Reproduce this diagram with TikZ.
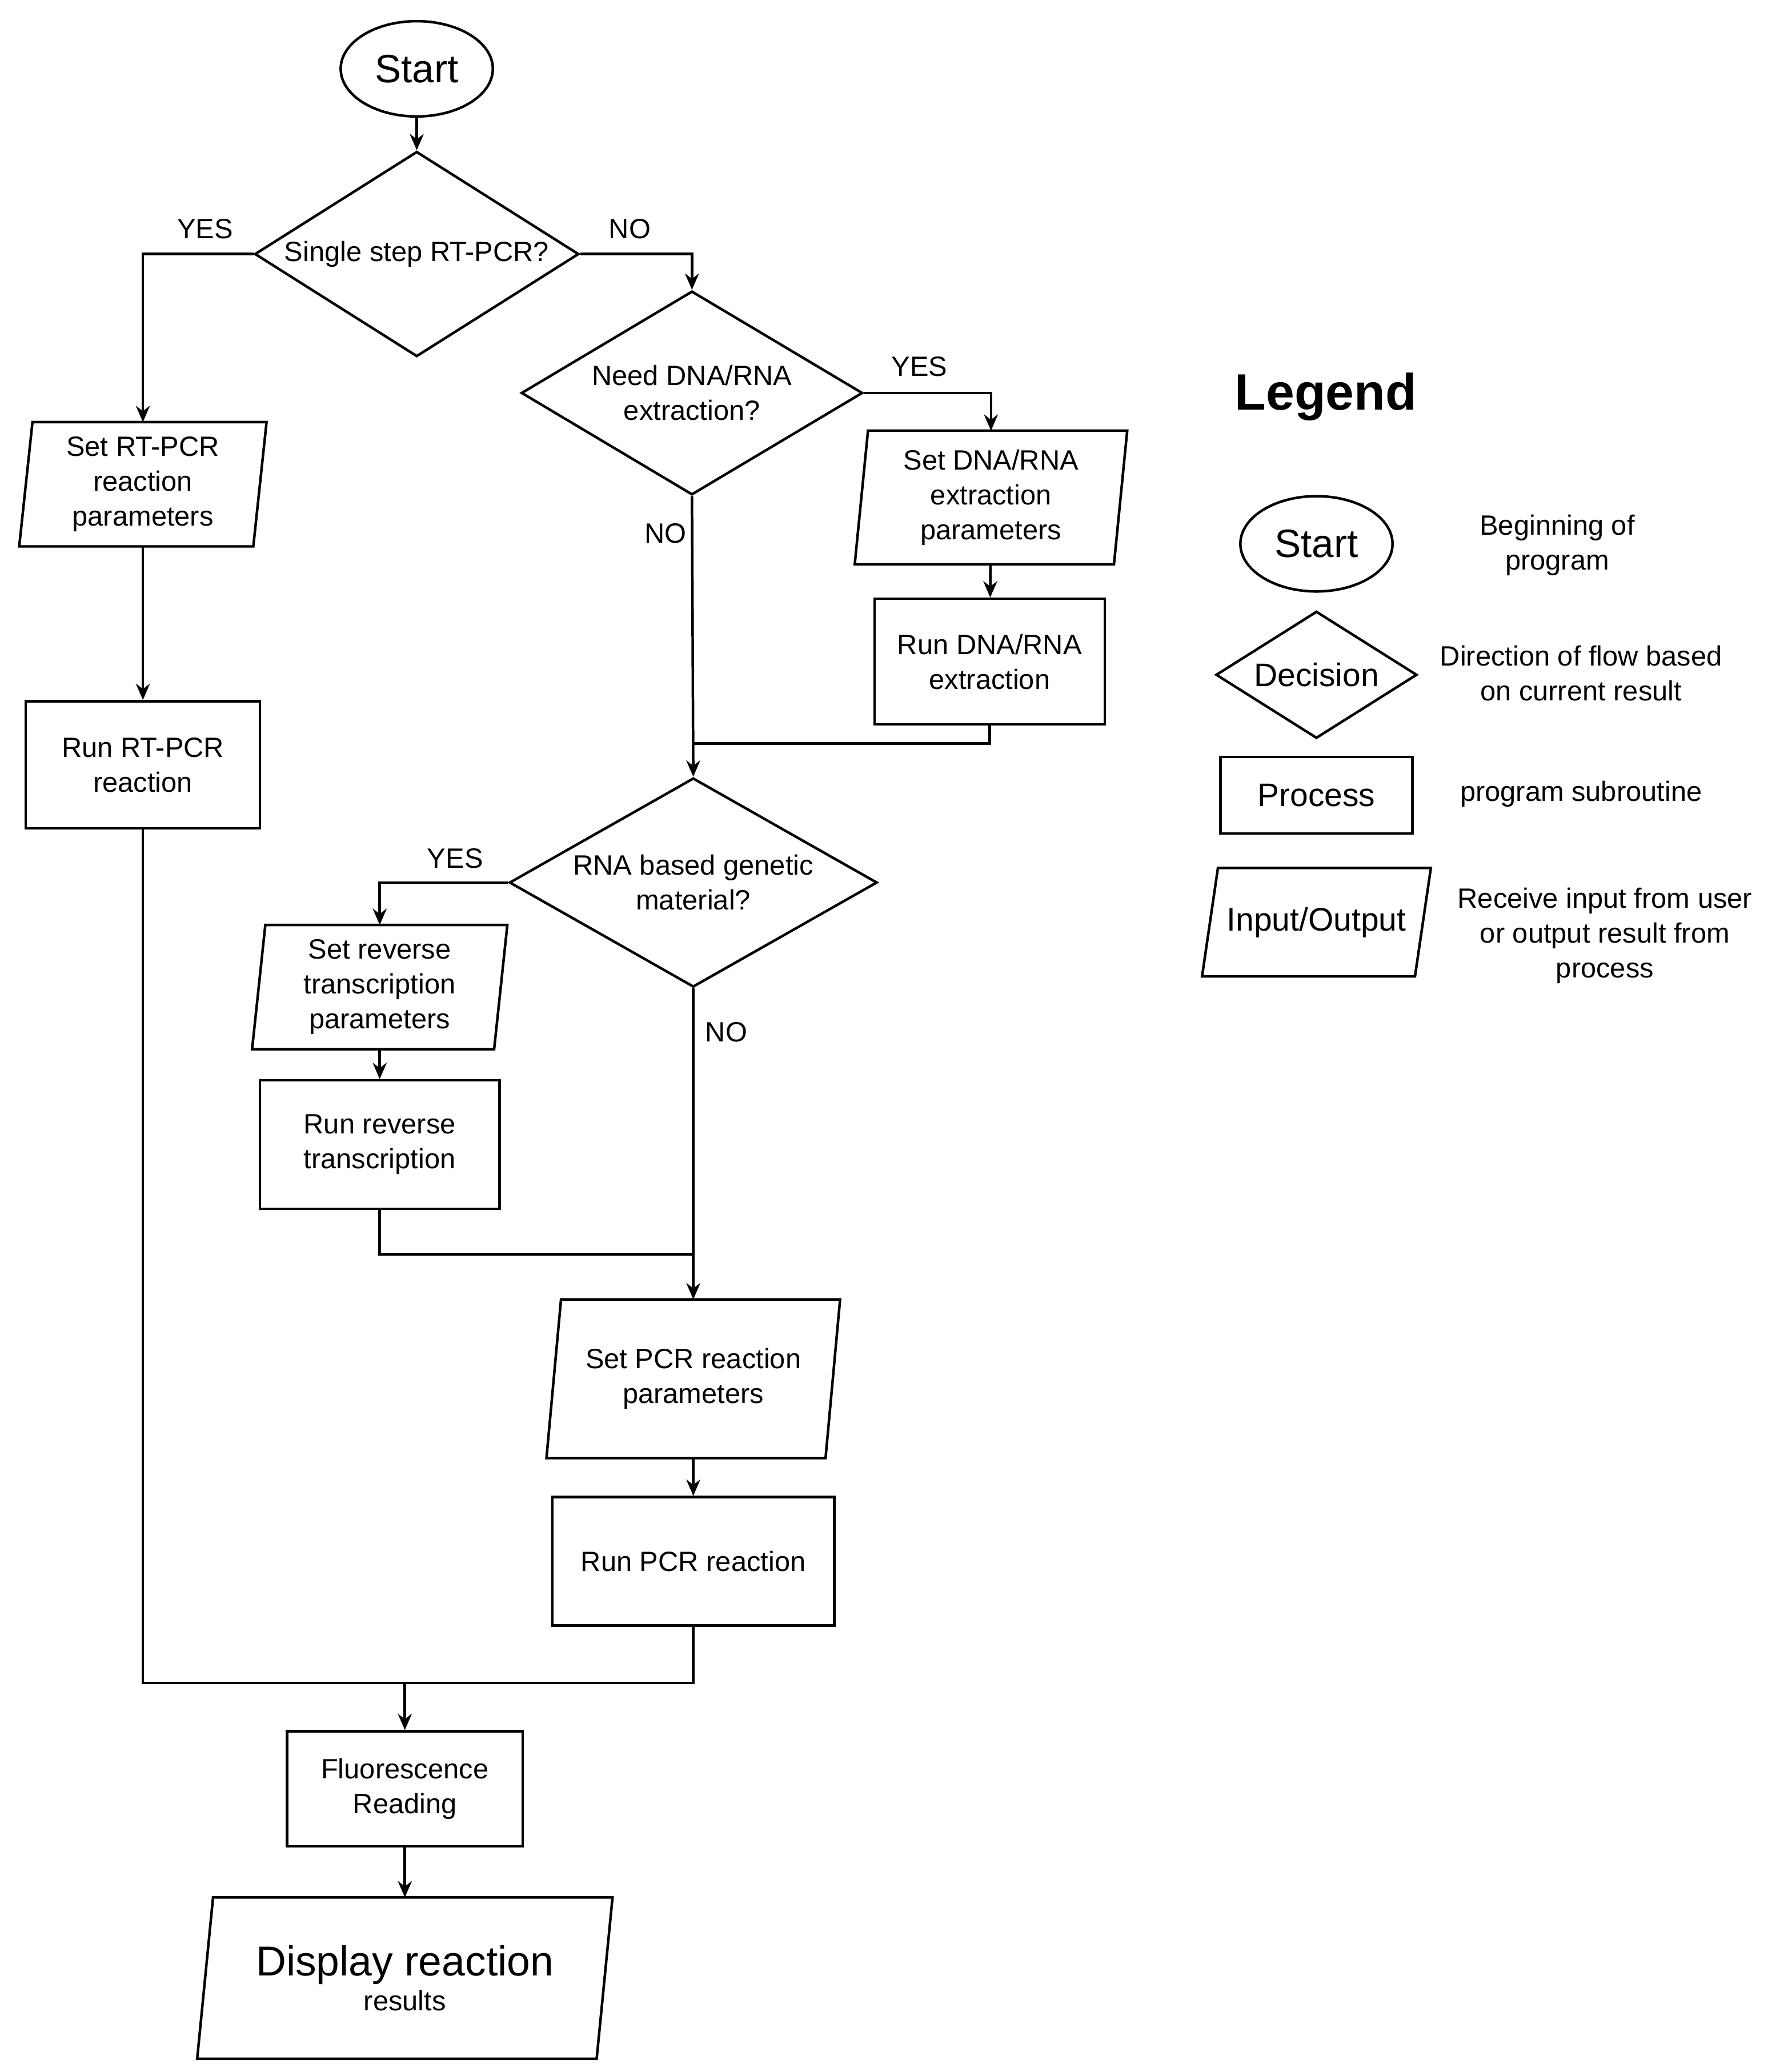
\documentclass[tikz,border=0pt]{standalone}
\usepackage{fontspec}
\setmainfont{Liberation Sans}
\usetikzlibrary{shapes.geometric,arrows.meta}
\begin{document}
\begin{tikzpicture}[x=0.02cm,y=-0.02cm,line width=1.1pt,
  txt/.style={font=\fontsize{12}{15}\selectfont,align=center},
  proc/.style={draw,txt,inner sep=0pt},
  dec/.style={draw,diamond,txt,aspect=1.6,inner sep=0pt},
  term/.style={draw,ellipse,font=\fontsize{17}{20}\selectfont,inner sep=0pt},
  lab/.style={txt},
  io/.style={txt,inner sep=0pt},
  arr/.style={-{Stealth[length=7pt,width=6pt]}}]
\useasboundingbox (0,0) rectangle (1351,1566);
\newcommand{\iobox}[7]{% name,cx,cy,w,h,slant,text
  \node[io,minimum width=#4*0.02cm,minimum height=#5*0.02cm] (#1) at (#2,#3) {#7};
  \draw ([xshift=#6*0.02cm]#1.north west) -- (#1.north east) -- ([xshift=-#6*0.02cm]#1.south east) -- (#1.south west) -- cycle;}
% main flow
\node[term,minimum width=115*0.02cm,minimum height=72*0.02cm] (start) at (315,52) {Start};
\node[dec,minimum width=245*0.02cm,minimum height=155*0.02cm] (d1) at (315,192) {Single step RT-PCR?};
\iobox{p1}{108}{366}{185}{92}{10}{Set RT-PCR\\reaction\\parameters}
\node[proc,minimum width=177*0.02cm,minimum height=96*0.02cm] (b1) at (108,578) {Run RT-PCR\\reaction};
\node[dec,minimum width=258*0.02cm,minimum height=154*0.02cm] (d2) at (523,297) {Need DNA/RNA\\extraction?};
\iobox{p2}{749}{376}{204}{99}{10}{Set DNA/RNA\\extraction\\parameters}
\node[proc,minimum width=174*0.02cm,minimum height=95*0.02cm] (b2) at (748,500) {Run DNA/RNA\\extraction};
\node[dec,minimum width=278*0.02cm,minimum height=158*0.02cm] (d3) at (524,667) {RNA based genetic\\material?};
\iobox{p3}{287}{746}{191}{92}{10}{Set reverse\\transcription\\parameters}
\node[proc,minimum width=181*0.02cm,minimum height=97*0.02cm] (b3) at (287,865) {Run reverse\\transcription};
\iobox{p4}{524}{1042}{220}{118}{11}{Set PCR reaction\\parameters}
\node[proc,minimum width=213*0.02cm,minimum height=97*0.02cm] (b4) at (524,1180) {Run PCR reaction};
\node[proc,minimum width=178*0.02cm,minimum height=87*0.02cm] (b5) at (306,1352) {Fluorescence\\Reading};
\iobox{p5}{306}{1495}{312}{120}{12}{\fontsize{18}{24}\selectfont Display reaction\\results}
% connectors
\coordinate (j1) at (523,192);
\coordinate (j2) at (748,297);
\coordinate (j3) at (523,562);
\coordinate (j4) at (287,667);
\coordinate (j5) at (524,948);
\coordinate (j6) at (306,1272);
\draw[arr] (start) -- (d1);
\draw[arr] (d1.west) -| (p1.north);
\draw[arr] (p1) -- (b1);
\draw[arr] (d1.east) -| (d2.north);
\draw[arr] (d2.east) -| (p2.north);
\draw[arr] (p2) -- (b2);
\draw (b2.south) |- (j3);
\draw[arr] (d2.south) -- (d3.north);
\draw[arr] (d3.west) -| (p3.north);
\draw[arr] (p3) -- (b3);
\draw (b3.south) |- (j5);
\draw[arr] (d3.south) -- (p4.north);
\draw[arr] (p4) -- (b4);
\draw (b1.south) |- (j6) -| (b4.south);
\draw[arr] (j6) -- (b5.north);
\draw[arr] (b5) -- (p5);
% labels
\node[lab] at (155,173) {YES};
\node[lab] at (476,173) {NO};
\node[lab] at (695,277) {YES};
\node[lab] at (503,403) {NO};
\node[lab] at (344,649) {YES};
\node[lab] at (549,780) {NO};
% legend
\node[font=\fontsize{22}{26}\selectfont\bfseries] (lg) at (1002,300) {Legend};
\node[term,minimum width=115*0.02cm,minimum height=72*0.02cm] (ls) at (995,411) {Start};
\node[lab] (lsl) at (1177,412) {Beginning of\\program};
\node[dec,font=\fontsize{14}{17}\selectfont,minimum width=152*0.02cm,minimum height=96*0.02cm,aspect=1.58] (ld) at (995,510) {Decision};
\node[lab] (ldl) at (1195,509) {Direction of flow based\\on current result};
\node[draw,font=\fontsize{14}{17}\selectfont,minimum width=145*0.02cm,minimum height=58*0.02cm] (lp) at (995,601) {Process};
\node[lab] (lpl) at (1195,600) {program subroutine};
\iobox{li}{995}{697}{171}{80}{12}{\fontsize{14}{17}\selectfont Input/Output}
\node[lab] (lil) at (1213,707) {Receive input from user\\or output result from\\process};
\end{tikzpicture}
\end{document}
